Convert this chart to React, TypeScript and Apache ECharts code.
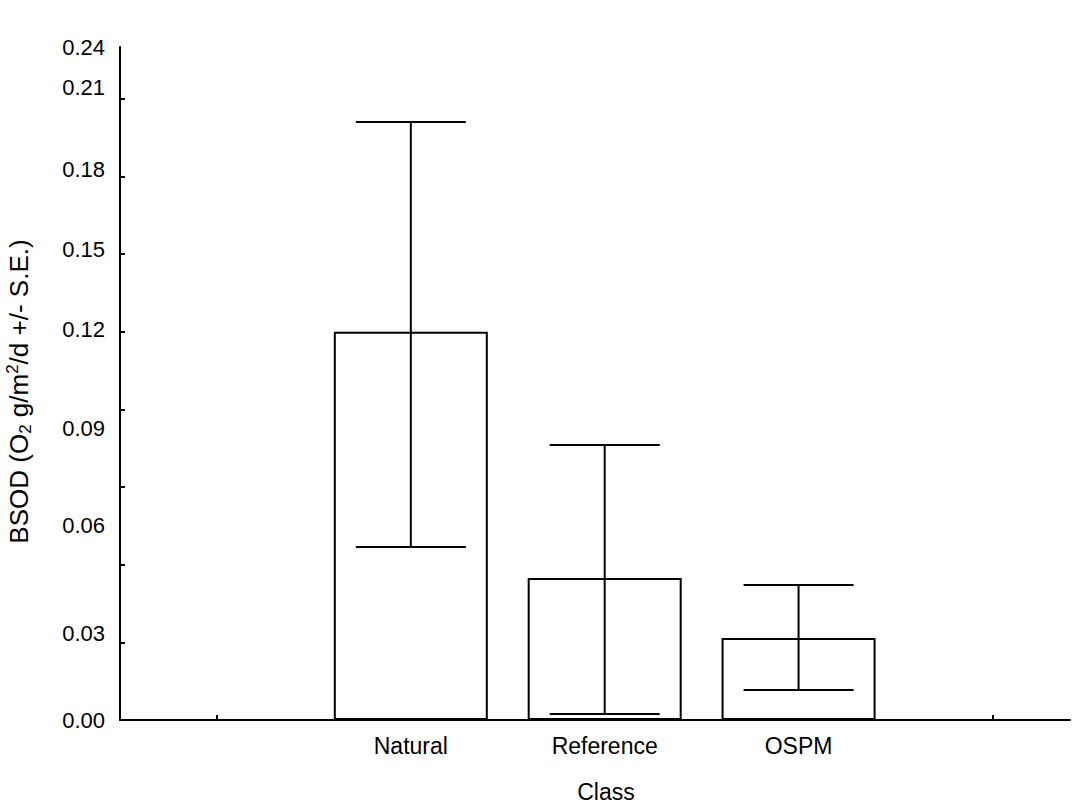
import React, { useEffect, useRef } from "react";
import * as echarts from "echarts";

// Categories and their slot on the x axis
const classNames = ["Natural", "Reference", "OSPM"];
const classSlots = [1, 2, 3];
const xTickSlots = [0, 1, 2, 3, 4];

// Mean and standard-error band (lower, upper)
const means = [0.150, 0.0549, 0.0317];
const lowerSE = [0.0668, 0.0023, 0.0116];
const upperSE = [0.231, 0.1062, 0.0522];

// Y ticks and the (offset) tick labels as printed in the original
const yTicks = [0.03, 0.06, 0.09, 0.12, 0.15, 0.18, 0.21, 0.24];
const yLabelTexts = ["0.00", "0.03", "0.06", "0.09", "0.12", "0.15", "0.18", "0.21", "0.24"];
const yLabelAt = [0, 0.0336, 0.0753, 0.1128, 0.1507, 0.1816, 0.2125, 0.2442, 0.26];

const FONT = "'Liberation Sans', Arial, Helvetica, sans-serif";

export default function App() {
  const ref = useRef<HTMLDivElement>(null);
  useEffect(() => {
    if (!ref.current) return;
    const chart = echarts.init(ref.current, undefined, { renderer: "svg" });
    const barData = classSlots.map((s, i) => [s, means[i]]);
    const errData = classSlots.map((s, i) => [s, lowerSE[i], upperSE[i]]);
    chart.setOption({
      animation: false,
      backgroundColor: "#ffffff",
      grid: { left: 120, right: 15, top: 47, bottom: 87, containLabel: false, outerBoundsMode: "none" },
      xAxis: {
        type: "value",
        min: -0.5,
        max: 4.4,
        splitLine: { show: false },
        axisLine: { onZero: false, lineStyle: { color: "#000", width: 2 } },
        axisTick: {
          inside: true,
          length: 5,
          customValues: xTickSlots,
          lineStyle: { color: "#000", width: 2 },
        },
        axisLabel: {
          customValues: classSlots,
          formatter: (v: number) => {
            const i = classSlots.indexOf(Math.round(v));
            return i >= 0 ? classNames[i] : "";
          },
          color: "#000",
          fontFamily: FONT,
          fontSize: 23,
          margin: 14,
        },
        name: "Class",
        nameLocation: "middle",
        nameGap: 60,
        nameTextStyle: { color: "#000", fontFamily: FONT, fontSize: 23, padding: [0, 0, 0, 22] },
      },
      yAxis: {
        type: "value",
        min: 0,
        max: 0.26,
        splitLine: { show: false },
        axisLine: { onZero: false, lineStyle: { color: "#000", width: 2 } },
        axisTick: {
          inside: true,
          length: 5,
          customValues: yTicks,
          lineStyle: { color: "#000", width: 2 },
        },
        axisLabel: {
          customValues: yLabelAt,
          formatter: (v: number) => {
            let best = 0;
            let bd = Infinity;
            yLabelAt.forEach((p, i) => {
              const d = Math.abs(p - v);
              if (d < bd) { bd = d; best = i; }
            });
            return yLabelTexts[best];
          },
          color: "#000",
          fontFamily: FONT,
          fontSize: 22,
          margin: 15,
        },
        name: "{n|BSOD (O}{sub|2}{n| g/m}{sup|2}{n|/d +/- S.E.)}",
        nameLocation: "middle",
        nameGap: 86,
        nameTextStyle: {
          color: "#000",
          fontFamily: FONT,
          fontSize: 26,
          padding: [0, 16, 0, 0],
          rich: {
            n: { fontSize: 26, fontFamily: FONT, color: "#000", lineHeight: 30, verticalAlign: "middle" },
            sub: { fontSize: 17, fontFamily: FONT, color: "#000", lineHeight: 16, verticalAlign: "bottom" },
            sup: { fontSize: 17, fontFamily: FONT, color: "#000", lineHeight: 16, verticalAlign: "top" },
          },
        },
      },
      series: [
        {
          type: "bar",
          data: barData,
          barWidth: 154,
          itemStyle: { color: "#ffffff", borderColor: "#000", borderWidth: 2 },
          z: 2,
        },
        {
          type: "custom",
          data: errData,
          encode: { x: 0, y: [1, 2] },
          z: 3,
          renderItem: (params: any, api: any) => {
            const x = api.value(0);
            const lo = api.coord([x, api.value(1)]);
            const hi = api.coord([x, api.value(2)]);
            const half = 55;
            const style = { stroke: "#000", lineWidth: 2, fill: "none" };
            return {
              type: "group",
              children: [
                { type: "line", shape: { x1: hi[0], y1: hi[1], x2: lo[0], y2: lo[1] }, style },
                { type: "line", shape: { x1: hi[0] - half, y1: hi[1], x2: hi[0] + half, y2: hi[1] }, style },
                { type: "line", shape: { x1: lo[0] - half, y1: lo[1], x2: lo[0] + half, y2: lo[1] }, style },
              ],
            };
          },
        },
      ],
    });
    return () => chart.dispose();
  }, []);
  return (
    <div
      ref={ref}
      style={{ position: "absolute", left: 0, top: 0, width: 1085, height: 807, background: "#fff" }}
    />
  );
}
